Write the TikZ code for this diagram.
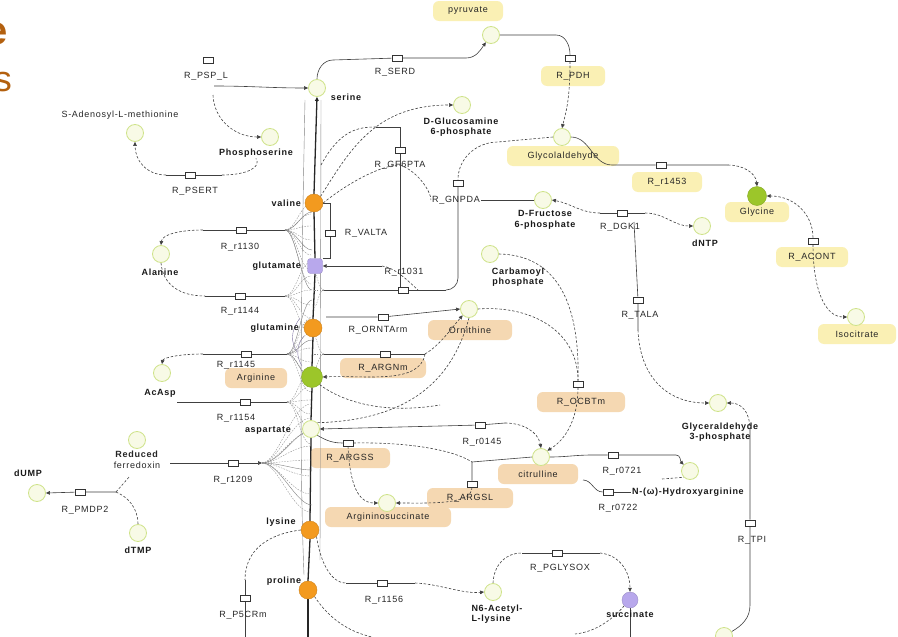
\documentclass[tikz,border=0pt]{standalone}
\usepackage{fontspec}
\setmainfont{Liberation Sans}
\newfontfamily\lblfont{Liberation Sans}[LetterSpace=8]
\usetikzlibrary{arrows.meta}
\pgfdeclarelayer{hlayer}
\pgfdeclarelayer{back}
\pgfsetlayers{hlayer,back,main}
\definecolor{metfill}{HTML}{F8FAE6}
\definecolor{metline}{HTML}{CFE38A}
\definecolor{orangeM}{HTML}{F39A1F}
\definecolor{greenM}{HTML}{9CC62A}
\definecolor{purpleM}{HTML}{B8A8EC}
\definecolor{hly}{HTML}{FAF0B4}
\definecolor{hlo}{HTML}{F5D8B2}
\definecolor{titlec}{HTML}{B3600F}
\begin{document}
\begin{tikzpicture}[x=1pt,y=-1pt,
 met/.style={circle,minimum size=17pt,inner sep=0pt,draw=metline,fill=metfill,line width=0.8pt},
 metO/.style={circle,minimum size=18pt,inner sep=0pt,draw=orangeM!85!black,fill=orangeM,line width=0.4pt},
 metG/.style={circle,minimum size=21pt,inner sep=0pt,draw=greenM!85!black,fill=greenM,line width=0.4pt},
 metP/.style={rectangle,rounded corners=3pt,minimum size=15pt,inner sep=0pt,draw=purpleM!85!black,fill=purpleM,line width=0.4pt},
 rxn/.style={rectangle,minimum width=10pt,minimum height=6pt,inner sep=0pt,draw=black!80,fill=white,line width=0.6pt},
 lbl/.style={font={\lblfont\fontsize{9}{10.5}\selectfont},text=black!85,inner sep=1pt},
 lblb/.style={font={\lblfont\bfseries\fontsize{9}{10.5}\selectfont},text=black!90,inner sep=1pt},
 hlY/.style={lbl,fill=hly,rounded corners=6pt,minimum height=20pt,inner xsep=6pt},
 hlO/.style={lbl,fill=hlo,rounded corners=6pt,minimum height=20pt,inner xsep=6pt},
 con/.style={draw=black!75,line width=0.6pt},
 dcon/.style={con,dash pattern=on 2.5pt off 1.8pt},
 fan/.style={draw=black!45,line width=0.35pt,dash pattern=on 1.6pt off 1.2pt},
 fans/.style={draw=black!50,line width=0.4pt},
 col/.style={draw=black!85,line width=1.3pt},
 arr/.style={-{Triangle[length=4pt,width=3.6pt]}},
]
\useasboundingbox (0,0) rectangle (898,637);

% ---------- highlight layer ----------
\begin{pgfonlayer}{hlayer}
\fill[white] (0,0) rectangle (898,637);
\node[hlY,minimum width=70pt] (l_pyr) at (468,11) {pyruvate};
\node[hlY,minimum width=64pt] (l_pdh) at (573,76) {R\_PDH};
\node[hlY,minimum width=112pt] (l_glyc) at (563,156) {Glycolaldehyde};
\node[hlY,minimum width=70pt] (l_1453) at (667,182) {R\_r1453};
\node[hlY,minimum width=64pt] (l_gly) at (757,212) {Glycine};
\node[hlY,minimum width=72pt] (l_acont) at (812,257) {R\_ACONT};
\node[hlY,minimum width=78pt] (l_icit) at (857,334) {Isocitrate};
\node[hlO,minimum width=84pt] (l_orn) at (470,330) {Ornithine};
\node[hlO,minimum width=86pt] (l_argn) at (383,368) {R\_ARGNm};
\node[hlO,minimum width=62pt] (l_arg) at (256,378) {Arginine};
\node[hlO,minimum width=88pt] (l_ocbt) at (581,402) {R\_OCBTm};
\node[hlO,minimum width=80pt] (l_argss) at (350,458) {R\_ARGSS};
\node[hlO,minimum width=80pt] (l_cit) at (538,474) {citrulline};
\node[hlO,minimum width=86pt] (l_argsl) at (470,498) {R\_ARGSL};
\node[hlO,minimum width=126pt] (l_asuc) at (388,517) {Argininosuccinate};
\end{pgfonlayer}

% ---------- title fragments (cut by the left edge, as in the reference) ----------
\node[font={\bfseries\fontsize{40}{40}\selectfont},text=titlec,anchor=east,inner sep=0pt] (t_e) at (8,34) {e};
\node[font={\fontsize{36}{36}\selectfont},text=titlec,anchor=east,inner sep=0pt] (t_s) at (12,82) {s};

% ---------- metabolites ----------
\node[met] (m_pyr) at (491,35) {};
\node[met] (m_ser) at (317,88) {};
\node[met] (m_pea) at (270,137) {};
\node[met] (m_sam) at (135,133) {};
\node[metO] (m_val) at (314,203) {};
\node[metP] (m_glu) at (315,266) {};
\node[metO] (m_gln) at (313,328) {};
\node[metG] (m_arg) at (312,377) {};
\node[met] (m_asp) at (311,429) {};
\node[metO] (m_lys) at (310,530) {};
\node[metO] (m_pro) at (308,590) {};
\node[met] (m_ala) at (161,254) {};
\node[met] (m_acasp) at (162,373) {};
\node[met] (m_fdx) at (137,440) {};
\node[met] (m_dump) at (37,493) {};
\node[met] (m_dtmp) at (138,533) {};
\node[met] (m_gam) at (462,105) {};
\node[met] (m_glyc) at (562,137) {};
\node[met] (m_f6p) at (543,200) {};
\node[metG,minimum size=19pt] (m_gly) at (757,196) {};
\node[met] (m_dntp) at (702,226) {};
\node[met] (m_icit) at (856,317) {};
\node[met] (m_cbp) at (490,254) {};
\node[met] (m_orn) at (469,309) {};
\node[met] (m_g3p) at (718,403) {};
\node[met] (m_cit) at (541,457) {};
\node[met] (m_hoarg) at (690,471) {};
\node[met] (m_asuc) at (387,503) {};
\node[met] (m_pyl) at (493,592) {};
\node[metP,circle,minimum size=16pt] (m_succ) at (630,600) {};
\node[met] (m_br) at (724,636) {};

% ---------- metabolite labels ----------
\node[lblb] (l_ser) at (346,97) {serine};
\node[lblb] (l_pea) at (256,153) {Phosphoserine};
\node[lbl] (l_sam) at (120,115) {S-Adenosyl-L-methionine};
\node[lblb,anchor=east] (l_val) at (302,203) {valine};
\node[lblb,anchor=east] (l_glu) at (302,266) {glutamate};
\node[lblb,anchor=east] (l_gln) at (300,328) {glutamine};
\node[lblb,anchor=east] (l_asp) at (292,430) {aspartate};
\node[lblb] (l_lys) at (281,522) {lysine};
\node[lblb] (l_pro) at (284,581) {proline};
\node[lblb] (l_ala) at (160,272) {Alanine};
\node[lblb] (l_acasp) at (160,393) {AcAsp};
\node[lbl,align=center] (l_fdx) at (137,460) {\textbf{Reduced}\\ferredoxin};
\node[lblb] (l_dump) at (28,473) {dUMP};
\node[lblb] (l_dtmp) at (138,550) {dTMP};
\node[lblb,align=center] (l_gam) at (461,127) {D-Glucosamine\\6-phosphate};
\node[lblb,align=center] (l_f6p) at (545,220) {D-Fructose\\6-phosphate};
\node[lblb] (l_dntp) at (705,243) {dNTP};
\node[lblb,align=center] (l_cbp) at (518,277) {Carbamoyl\\phosphate};
\node[lblb,align=center] (l_g3p) at (720,432) {Glyceraldehyde\\3-phosphate};
\node[lblb] (l_hoarg) at (688,492) {N-(ω)-Hydroxyarginine};
\node[lblb,align=left] (l_pyl) at (497,614) {N6-Acetyl-\\L-lysine};
\node[lblb] (l_succ) at (630,614) {succinate};

% ---------- reactions ----------
\node[rxn] (r_pserce) at (208,60) {};
\node[lbl] (l_pserce) at (206,76) {R\_PSP\_L};
\node[rxn] (r_serd) at (397,58) {};
\node[lbl] (l_serd) at (395,72) {R\_SERD};
\node[rxn] (r_pdh) at (570,58) {};
\node[rxn] (r_psertr) at (190,175) {};
\node[lbl] (l_psertr) at (195,191) {R\_PSERT};
\node[rxn] (r_1130) at (241,230) {};
\node[lbl] (l_1130) at (240,247) {R\_r1130};
\node[rxn] (r_1144) at (240,296) {};
\node[lbl] (l_1144) at (240,311) {R\_r1144};
\node[rxn] (r_1145) at (246,354) {};
\node[lbl] (l_1145) at (236,365) {R\_r1145};
\node[rxn] (r_1154) at (245,402) {};
\node[lbl] (l_1154) at (236,418) {R\_r1154};
\node[rxn] (r_1209) at (233,463) {};
\node[lbl] (l_1209) at (233,480) {R\_r1209};
\node[rxn] (r_pmdp) at (80,492) {};
\node[lbl] (l_pmdp) at (85,510) {R\_PMDP2};
\node[rxn] (r_valta) at (330,233) {};
\node[lbl] (l_valta) at (366,233) {R\_VALTA};
\node[rxn] (r_gf6p) at (400,150) {};
\node[lbl] (l_gf6p) at (400,165) {R\_GF6PTA};
\node[rxn] (r_g6pta) at (458,183) {};
\node[lbl] (l_gnpda) at (456,200) {R\_GNPDA};
\node[rxn] (r_dgk) at (622,213) {};
\node[lbl] (l_dgk) at (620,227) {R\_DGK1};
\node[rxn] (r_tala) at (638,300) {};
\node[lbl] (l_tala) at (640,315) {R\_TALA};
\node[rxn] (r_1453) at (661,165) {};
\node[rxn] (r_acont) at (813,241) {};
\node[rxn] (r_ocbt) at (578,384) {};
\node[rxn] (r_ornta) at (383,317) {};
\node[lbl] (l_ornta) at (378,330) {R\_ORNTArm};
\node[rxn] (r_argn) at (385,354) {};
\node[rxn] (r_1031) at (403,290) {};
\node[lbl] (l_1031) at (404,272) {R\_r1031};
\node[rxn] (r_argss) at (348,443) {};
\node[rxn] (r_0145) at (480,425) {};
\node[lbl] (l_0145) at (482,442) {R\_r0145};
\node[rxn] (r_argsl) at (472,484) {};
\node[rxn] (r_nos1) at (613,455) {};
\node[lbl] (l_nos1) at (622,471) {R\_r0721};
\node[rxn] (r_nos2) at (608,492) {};
\node[lbl] (l_nos2) at (618,508) {R\_r0722};
\node[rxn] (r_tpi) at (750,523) {};
\node[lbl] (l_tpi) at (752,540) {R\_TPI};
\node[rxn] (r_1156) at (382,583) {};
\node[lbl] (l_1156) at (384,600) {R\_r1156};
\node[rxn] (r_pglysox) at (557,553) {};
\node[lbl] (l_pglysox) at (560,568) {R\_PGLYSOX};
\node[rxn] (r_p5cr) at (245,598) {};
\node[lbl] (l_p5cr) at (243,615) {R\_P5CRm};

% ---------- connectors ----------
\begin{pgfonlayer}{back}
% central column
\draw[fans] (305,100) .. controls (301,300) and (299,450) .. (304,575);
\draw[fans] (321,100) -- (320,560);
\draw[col,arr] (m_val.north) -- (m_ser.south);
\draw[col] (m_val.south) -- (m_glu.north);
\draw[col] (m_glu.south) -- (m_gln.north);
\draw[col] (m_gln.south) -- (m_arg.north);
\draw[col] (m_arg.south) -- (m_asp.north);
\draw[col] (m_asp.south) -- (m_lys.north);
\draw[col] (m_lys.south) -- (m_pro.north);
\draw[col] (m_pro.south) -- (308,637);
\draw[fans,draw=purpleM!70!black] (300,318) .. controls (290,332) and (291,342) .. (297,352);
\draw[fans,draw=purpleM!70!black] (304,336) .. controls (296,346) and (296,356) .. (302,366);

% serine - pyruvate
\draw[con,arr] (m_ser.north) to[out=90,in=180] (333,60) -- (r_serd) -- (466,58) to[out=0,in=-125] (m_pyr);
\draw[con,arr] (214,86) to[out=0,in=180] (m_ser.west);
\draw[dcon,arr] (213,95) .. controls (214,120) and (235,137) .. (m_pea.west);
\draw[con] (166,175) -- (r_psertr) -- (222,175);
\draw[dcon,arr] (166,175) .. controls (146,175) and (135,160) .. (m_sam.south);
\draw[dcon] (222,175) .. controls (245,175) and (262,168) .. (l_pea.south);

% pyruvate - PDH - glycolaldehyde - glycine - isocitrate
\draw[con] (m_pyr.east) -- (556,35) to[out=0,in=90] (r_pdh.north);
\draw[dcon,arr] (r_pdh.south) .. controls (570,100) and (566,112) .. (m_glyc.north);
\draw[con] (m_glyc.east) to[out=0,in=180] (612,165) -- (r_1453) -- (728,165);
\draw[dcon,arr] (728,165) to[out=0,in=95] (m_gly.north);
\draw[dcon,arr] (r_acont.north) .. controls (813,215) and (795,196) .. (m_gly.east);
\draw[dcon,arr] (r_acont.south) .. controls (813,290) and (825,317) .. (m_icit.west);

% glucosamine / fructose
\draw[dcon] (m_glyc.west) -- (498,142) to[out=180,in=90] (r_g6pta.north);
\draw[con] (r_g6pta.south) -- (458,278) to[out=-90,in=0] (446,290);
\draw[con] (l_gnpda.east) -- (m_f6p.west);
\draw[dcon,arr] (600,213) to[out=180,in=-10] (m_f6p.east);
\draw[con] (600,213) -- (r_dgk) -- (645,213);
\draw[dcon,arr] (645,213) to[out=0,in=180] (m_dntp.west);
\draw[con] (634,222) -- (r_tala) -- (638,330);
\draw[dcon,arr] (638,330) .. controls (640,380) and (670,403) .. (m_g3p.west);
\draw[dcon,arr] (750,430) .. controls (750,410) and (740,403) .. (m_g3p.east);
\draw[con] (750,430) -- (r_tpi) -- (750,605) to[out=-90,in=30] (m_br);
\draw[dcon,arr] (m_val.north east) .. controls (350,150) and (375,105) .. (m_gam.west);
\draw[dcon] (321,165) .. controls (340,130) and (358,127) .. (376,127);
\draw[con] (376,127) -- (400,127) -- (r_gf6p) -- (400,290);
\draw[dcon] (m_val.east) .. controls (345,185) and (380,165) .. (400,165);
\draw[dcon] (400,165) .. controls (420,172) and (432,195) .. (l_gnpda.west);

% valine - glutamate
\draw[con] (m_val.east) -| (r_valta.north);
\draw[con] (r_valta.south) |- (m_glu.north east);
\draw[con,arr] (382,266) -- (m_glu.east);
\draw[dcon] (382,266) .. controls (395,268) and (405,278) .. (418,290);
\draw[con] (324,290) -- (r_1031) -- (446,290);

% urea cycle
\draw[con,arr] (326,317) -- (r_ornta) -- (m_orn.west);
\draw[dcon] (m_orn.east) .. controls (530,305) and (578,330) .. (r_ocbt.north);
\draw[dcon] (m_cbp.east) .. controls (555,255) and (580,300) .. (r_ocbt.north);
\draw[dcon,arr] (r_ocbt.south) .. controls (578,420) and (565,440) .. (m_cit.north east);
\draw[con] (324,354) -- (r_argn) -- (425,354);
\draw[dcon,arr] (425,354) .. controls (440,345) and (450,330) .. (m_orn.south west);
\draw[dcon,arr] (425,354) .. controls (420,385) and (365,375) .. (m_arg.east);
\draw[dcon] (m_orn.south) .. controls (455,370) and (420,420) .. (m_asp.north east);
\draw[dcon] (m_arg.south east) .. controls (340,400) and (380,415) .. (440,405);
\draw[con,arr] (505,423) -- (r_0145) -- (m_asp.east);
\draw[dcon,arr] (505,423) to[out=0,in=100] (m_cit.north);
\draw[con] (m_cit.west) -- (472,462) -- (r_argsl);
\draw[dcon] (r_argss.east) .. controls (400,442) and (450,448) .. (472,462);
\draw[dcon,arr] (r_argsl.south) .. controls (472,505) and (430,503) .. (m_asuc.east);
\draw[dcon,arr] (r_argss.south) .. controls (350,485) and (358,503) .. (m_asuc.west);
\draw[con] (m_asp.south east) to[out=-30,in=180] (r_argss.west);
\draw[con,arr] (m_cit.east) to[out=0,in=180] (592,455) -- (r_nos1) -- (676,455) to[out=0,in=135] (m_hoarg.north west);
\draw[con] (583,480) to[out=0,in=180] (r_nos2);
\draw[con] (r_nos2) -- (l_hoarg.west);
\draw[dcon] (662,479) -- (m_hoarg.south west);

% lysine / proline
\draw[dcon] (m_lys.south east) .. controls (320,560) and (330,583) .. (346,583);
\draw[con] (346,583) -- (r_1156) -- (415,583);
\draw[dcon,arr] (415,583) .. controls (440,584) and (462,594) .. (m_pyl.west);
\draw[dcon] (m_pyl.north) .. controls (494,565) and (505,553) .. (522,553);
\draw[con] (522,553) -- (r_pglysox) -- (600,553);
\draw[dcon,arr] (600,553) .. controls (620,555) and (630,572) .. (m_succ.north);
\draw[dcon] (m_pro.south east) .. controls (330,620) and (350,632) .. (372,637);
\draw[dcon] (m_succ.south west) .. controls (612,620) and (595,632) .. (575,634);
\draw[con] (m_succ.south) -- (630,637);
\draw[dcon] (m_lys.west) .. controls (268,534) and (245,550) .. (245,580);
\draw[con] (245,580) -- (r_p5cr) -- (245,637);

% left side
\draw[dcon,arr] (203,230) .. controls (178,230) and (162,235) .. (m_ala.north);
\draw[con] (203,230) -- (r_1130) -- (285,230);
\draw[dcon] (m_ala.south) .. controls (163,285) and (180,296) .. (205,296);
\draw[con] (205,296) -- (r_1144) -- (285,296);
\draw[dcon,arr] (203,354) .. controls (178,354) and (163,358) .. (m_acasp.north);
\draw[con] (203,354) -- (r_1145) -- (287,354);
\draw[con] (177,402) -- (r_1154) -- (287,402);
\draw[con,arr] (170,463) -- (r_1209) -- (262,463);
\draw[con,arr] (116,492) -- (r_pmdp) -- (m_dump.east);
\draw[dcon] (116,492) -- (130,476);
\draw[dcon] (116,492) .. controls (128,497) and (138,508) .. (m_dtmp.north);

% dense fans into the column
\foreach \yy in {204,214,226,240,255,270,284}
  {\draw[fan] (285,230) .. controls (296,230) and (300,\yy) .. (311,\yy);}
\foreach \yy in {262,276,290,305,318,334}
  {\draw[fan] (285,296) .. controls (296,296) and (300,\yy) .. (311,\yy);}
\foreach \yy in {318,333,348,362,376,392}
  {\draw[fan] (287,354) .. controls (297,354) and (300,\yy) .. (311,\yy);}
\foreach \yy in {372,386,400,414,428,444}
  {\draw[fan] (287,402) .. controls (297,402) and (300,\yy) .. (311,\yy);}
\foreach \yy in {404,418,432,446,460,476,494,512}
  {\draw[fan] (262,463) .. controls (278,463) and (292,\yy) .. (311,\yy);}
\foreach \yy in {212,250,290}
  {\draw[fans] (285,230) .. controls (296,230) and (302,\yy) .. (312,\yy);}
\foreach \yy in {300,340,380}
  {\draw[fans] (287,354) .. controls (297,354) and (302,\yy) .. (312,\yy);}
\foreach \yy in {430,470,505}
  {\draw[fans] (262,463) .. controls (280,463) and (296,\yy) .. (312,\yy);}
\foreach \yy in {272,290,308}
  {\draw[fan] (324,290) .. controls (318,290) and (318,\yy) .. (313,\yy);}
\foreach \yy in {336,354,370}
  {\draw[fan] (324,354) .. controls (318,354) and (318,\yy) .. (313,\yy);}
\end{pgfonlayer}
\end{tikzpicture}
\end{document}
